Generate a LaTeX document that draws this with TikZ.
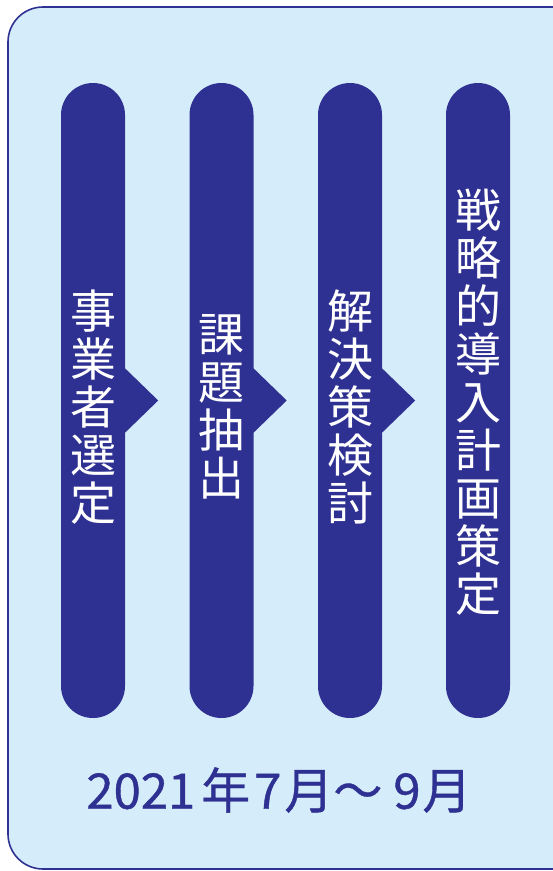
\documentclass[tikz,border=0pt]{standalone}
\usepackage{fontspec}
\usepackage{tikz}
\usetikzlibrary{positioning, calc}
\newfontfamily\cjk{Noto Sans CJK JP}
\newfontfamily\cjkmid[FakeBold=0.8]{Noto Sans CJK JP}
\definecolor{Navy-1}{RGB}{46,49,146}
\definecolor{Sky-1}{RGB}{213,236,250}

\begin{document}
\begin{tikzpicture}[x=1pt, y=-1pt]
          \tikzset{ pill/.style ={fill=Navy-1, rounded corners=32pt, minimum width=64pt, minimum height=635pt, inner sep=0pt} }
          \tikzset{ vtxt/.style ={text=white, align=center, inner sep=0pt, font=\cjk\fontsize{46}{48}\selectfont} }
          \tikzset{ chev/.style ={fill=Navy-1} }
          \tikzset{ when/.style ={text=Navy-1, font=\cjkmid\fontsize{49}{54}\selectfont} }

          \useasboundingbox (0,0) rectangle (553,871);
          \clip (0,0) rectangle (553,871);
          \draw[Navy-1, line width=1.6pt, fill=Sky-1, rounded corners=35pt] (8,7) rectangle (590,869);

          \node[pill] (p1) at (93.0, 400.5) {};
          \node[pill] (p2) at (221.5, 400.5) {};
          \node[pill] (p3) at (350.0, 400.5) {};
          \node[pill] (p4) at (478.0, 400.5) {};

          \node[vtxt] (t1) at ($(p1)+(0,6.5)$) {事\\業\\者\\選\\定};
          \node[vtxt] (t2) at ($(p2)+(0,6.5)$) {課\\題\\抽\\出};
          \node[vtxt] (t3) at ($(p3)+(0,6.5)$) {解\\決\\策\\検\\討};
          \node[vtxt] (t4) at ($(p4)+(0,1.5)$) {戦\\略\\的\\導\\入\\計\\画\\策\\定};

          \fill[chev] ($(p1.east)+(-0.5,-32.5)$) -- ($(p1.east)+(33,0)$) -- ($(p1.east)+(-0.5,32.5)$) -- cycle;
          \fill[chev] ($(p2.east)+(-0.5,-32.5)$) -- ($(p2.east)+(33,0)$) -- ($(p2.east)+(-0.5,32.5)$) -- cycle;
          \fill[chev] ($(p3.east)+(-0.5,-32.5)$) -- ($(p3.east)+(33,0)$) -- ($(p3.east)+(-0.5,32.5)$) -- cycle;

          \node[when] (period) at (279, 790) {2021\kern6pt年\kern4pt7\kern3pt月～ 9\kern2pt月};
      \end{tikzpicture}
\end{document}
